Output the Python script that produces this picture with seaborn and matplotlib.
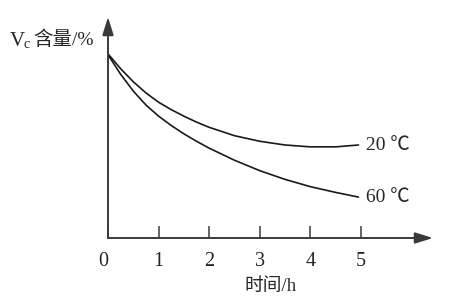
import matplotlib
matplotlib.use("Agg")
import matplotlib.pyplot as plt
import seaborn as sns
import pandas as pd

t = [0, 0.25, 0.5, 0.75, 1, 1.25, 1.5, 1.75, 2, 2.5, 3, 3.5, 4, 4.5, 4.95]
vc_20 = [99, 91, 84, 78, 73, 69, 65.5, 62.3, 59.5, 55, 52, 50, 49, 49, 50]
vc_60 = [98.5, 88, 79, 71.5, 65.5, 60.5, 56, 52, 48.3, 41.8, 36.2, 31.5, 27.6, 24.5, 22]
xticks = [0, 1, 2, 3, 4, 5]
series_labels = ["20 ℃", "60 ℃"]

sns.set_theme(style="white")
plt.rcParams['font.family'] = ['Liberation Serif', 'Noto Sans CJK SC', 'DejaVu Sans']

df = pd.concat([
    pd.DataFrame({"t": t, "v": vc_20, "s": series_labels[0]}),
    pd.DataFrame({"t": t, "v": vc_60, "s": series_labels[1]}),
])

W, H = 454, 301
fig = plt.figure(figsize=(W / 100, H / 100), dpi=100)
x0, y0 = 108, 238
xmax_px, ytop_px = 433, 17
ax = fig.add_axes([x0 / W, (H - y0) / H, (xmax_px - x0) / W, (y0 - ytop_px) / H])
px_per_x = 50.6
px_per_y = 1.86
ax.set_xlim(0, (xmax_px - x0) / px_per_x)
ax.set_ylim(0, (y0 - ytop_px) / px_per_y)

sns.lineplot(data=df, x="t", y="v", hue="s", palette=["#1a1a1a", "#1a1a1a"],
             linewidth=1.2, legend=False, ax=ax)
for ln in ax.lines:
    ln.set_solid_joinstyle('round')

for s in ax.spines.values():
    s.set_visible(False)
arrow = dict(arrowstyle='-|>,head_length=0.9,head_width=0.28',
             color='#3a3a3a', lw=1.4, shrinkA=0, shrinkB=0)
ax.annotate('', xy=(1, 0), xytext=(0, 0), xycoords='axes fraction', arrowprops=arrow)
ax.annotate('', xy=(0, 1), xytext=(0, 0), xycoords='axes fraction', arrowprops=arrow)

ax.set_xticks(xticks)
ax.set_xticklabels([str(v) for v in xticks], fontsize=14.5)
ax.get_xticklabels()[0].set_horizontalalignment('right')
ax.set_yticks([])
ax.tick_params(axis='x', direction='in', length=8.5, width=1.1, color='#3a3a3a',
               pad=10, bottom=True)
ax.set_xlabel("时间/h", fontsize=13.5, labelpad=5)
ax.set_ylabel("")

# y-axis title: V with subscript c, then 含量/%
fig.text(10 / W, 1 - 46.5 / H, "V", fontsize=15, va='baseline', ha='left')
fig.text(24 / W, 1 - 48.5 / H, "c", fontsize=10, va='baseline', ha='left')
fig.text(33 / W, 1 - 40 / H, "含量/%", fontsize=14, va='center', ha='left')

ax.text(5.0, vc_20[-1], " " + series_labels[0], fontsize=14, va='center', ha='left')
ax.text(5.0, vc_60[-1], " " + series_labels[1], fontsize=14, va='center', ha='left')

fig.savefig("out.png", dpi=100)
